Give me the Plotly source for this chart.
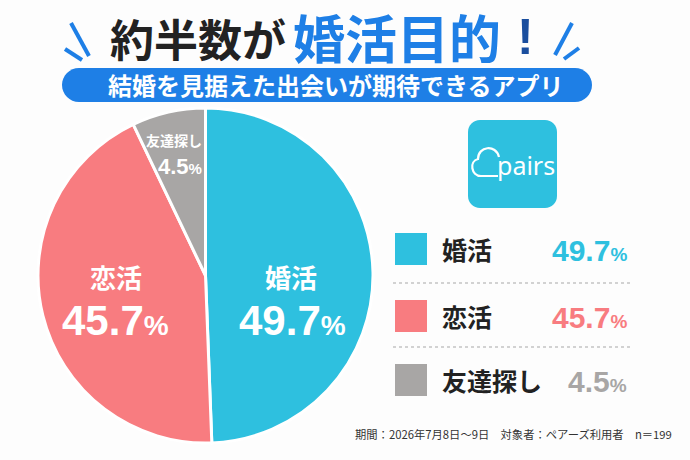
import plotly.graph_objects as go

# 回答データ
categories = ["婚活", "恋活", "友達探し"]
shares = [49.7, 45.7, 4.5]
# slice sizes as they are actually drawn in the source graphic
drawn_shares = [49.4, 43.5, 7.1]
colors = ["#2EC0DF", "#F87C80", "#A8A6A5"]

title_black = "約半数が"
title_blue = "婚活目的"
subtitle = "結婚を見据えた出会いが期待できるアプリ"
footnote = "期間：2026年7月8日～9日　対象者：ペアーズ利用者　n＝199"

W, H = 690, 460
JP = "Noto Sans CJK JP"
NUM = "Liberation Sans"
BLUE = "#1E7FE6"


def px(x):
    return x / W


def py(y):
    return 1 - y / H


def round_rect(x0, y0, x1, y1, r):
    k = 0.55 * r
    p = [
        f"M {px(x0 + r)},{py(y0)}",
        f"L {px(x1 - r)},{py(y0)}",
        f"C {px(x1 - r + k)},{py(y0)} {px(x1)},{py(y0 + r - k)} {px(x1)},{py(y0 + r)}",
        f"L {px(x1)},{py(y1 - r)}",
        f"C {px(x1)},{py(y1 - r + k)} {px(x1 - r + k)},{py(y1)} {px(x1 - r)},{py(y1)}",
        f"L {px(x0 + r)},{py(y1)}",
        f"C {px(x0 + r - k)},{py(y1)} {px(x0)},{py(y1 - r + k)} {px(x0)},{py(y1 - r)}",
        f"L {px(x0)},{py(y0 + r)}",
        f"C {px(x0)},{py(y0 + r - k)} {px(x0 + r - k)},{py(y0)} {px(x0 + r)},{py(y0)}",
        "Z",
    ]
    return " ".join(p)


fig = go.Figure(go.Pie(
    labels=categories,
    values=drawn_shares,
    customdata=shares,
    sort=False,
    direction="clockwise",
    rotation=0,
    marker=dict(colors=colors, line=dict(color="white", width=3)),
    textinfo="none",
    hovertemplate="%{label}: %{customdata}%<extra></extra>",
    showlegend=False,
    domain=dict(x=[px(38), px(373)], y=[py(443), py(108)]),
))

shapes = []
annotations = []


def text(x, y, s, size, color, font=JP, weight="bold", xanchor="center"):
    annotations.append(dict(
        x=px(x), y=py(y), xref="paper", yref="paper", text=s, showarrow=False,
        xanchor=xanchor, yanchor="middle",
        font=dict(family=font, size=size, color=color, weight=weight),
    ))


# title
text(108, 38, title_black, 44, "#222222", xanchor="left")
text(291, 37, title_blue, 52, BLUE, xanchor="left")
text(525, 37, "!", 50, "#1A4E9E", font=NUM)
for x0, y0, x1, y1 in [(71, 23, 89, 56), (65, 49, 82, 60),
                       (572, 23, 555, 55), (579, 48, 564, 59)]:
    shapes.append(dict(type="line", xref="paper", yref="paper",
                       x0=px(x0), y0=py(y0), x1=px(x1), y1=py(y1),
                       line=dict(color=BLUE, width=4)))

# subtitle pill
shapes.append(dict(type="path", xref="paper", yref="paper",
                   path=round_rect(62, 68, 592, 102, 17),
                   fillcolor=BLUE, line=dict(width=0)))
text(336, 85, subtitle, 24, "white")

# pie labels
pct = "<span style='font-size:{}px'>%</span>"
pie_labels = [(291, 276, 26, 292, 320, 42, 28),
              (116, 276, 26, 115, 320, 42, 28),
              (174, 140, 14, 180, 166, 22, 15)]
for (lx, ly, ls, vx, vy, vs, ps), cat, v in zip(pie_labels, categories, shares):
    text(lx, ly, cat, ls, "white")
    text(vx, vy, f"{v}" + pct.format(ps), vs, "white", font=NUM)

# pairs logo
shapes.append(dict(type="path", xref="paper", yref="paper",
                   path=round_rect(468, 120, 557, 208, 12),
                   fillcolor="#2EC0DF", line=dict(width=0)))
cloud = (f"M {px(498)},{py(176)} L {px(481)},{py(176)} "
         f"C {px(471)},{py(176)} {px(469)},{py(161)} {px(478)},{py(159)} "
         f"C {px(478)},{py(146)} {px(496)},{py(144)} {px(499)},{py(157)}")
shapes.append(dict(type="path", xref="paper", yref="paper", path=cloud,
                   line=dict(color="white", width=2.2)))
text(526, 165, "pairs", 25, "white", font="Noto Sans", weight="normal")

# legend
rows_y = [249, 316, 380]
for yy, cat, v, c in zip(rows_y, categories, shares, colors):
    shapes.append(dict(type="rect", xref="paper", yref="paper",
                       x0=px(395), x1=px(427), y0=py(yy - 16), y1=py(yy + 16),
                       fillcolor=c, line=dict(width=0)))
    text(440, yy, cat, 25, "#222222", xanchor="left")
    text(629, yy + 1, f"{v}" + pct.format(19), 30, c, font=NUM, xanchor="right")
for yy in [283, 347]:
    shapes.append(dict(type="line", xref="paper", yref="paper",
                       x0=px(393), x1=px(630), y0=py(yy), y1=py(yy),
                       line=dict(color="#C4C4C4", width=1.5, dash="dot")))

# footnote
text(353, 434, footnote, 11.3, "#333333", weight="normal", xanchor="left")

fig.update_layout(
    width=W, height=H,
    margin=dict(l=0, r=0, t=0, b=0),
    paper_bgcolor="#FDFDFD",
    plot_bgcolor="#FDFDFD",
    shapes=shapes,
    annotations=annotations,
)
fig.write_html("out.html", config={"displayModeBar": False},
               post_script="document.body.style.margin='0';")
